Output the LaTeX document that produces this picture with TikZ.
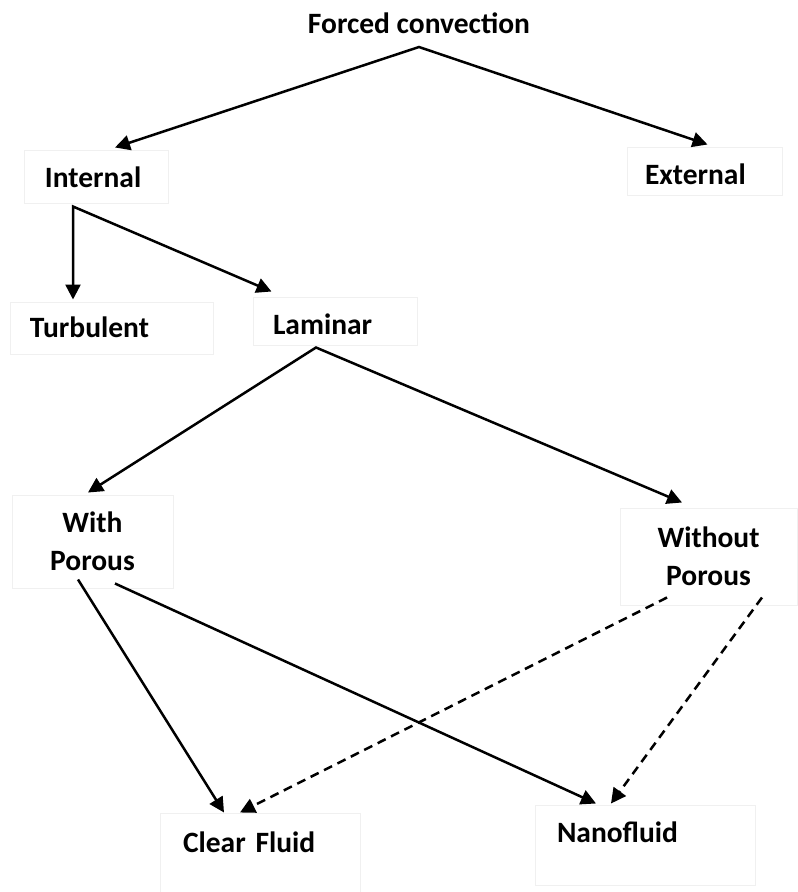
\documentclass[tikz,border=0pt]{standalone}
\usepackage{fontspec}
\setmainfont{Carlito}
\usetikzlibrary{arrows.meta}
\begin{document}
\begin{tikzpicture}
    [x=1pt, y=-1pt, >={Triangle[length=15pt,width=15pt]},
     item/.style={rectangle, draw=black!6, line width=1pt, inner ysep=0pt, align=left, font=\bfseries\fontsize{29.5}{38}\selectfont},
     twoline/.style={item, align=center, inner sep=0pt},
     link/.style={->, line width=2.5pt},
     fork/.style={<->, line width=2.5pt},
     maybe/.style={link, dash pattern=on 9pt off 6pt}]
    \useasboundingbox (0,0) rectangle (798,892);

    \node[item, draw=none, anchor=base] (fc) at (419,33) {Forced convection};
    \node[item, inner xsep=21pt, text width=102pt, text height=37pt, text depth=16pt] (int) at (96,176.5) {Internal};
    \node[item, inner xsep=18pt, text width=119pt, text height=37pt, text depth=11pt] (ext) at (704.5,171) {External};
    \node[item, inner xsep=20pt, text width=163pt, text height=35pt, text depth=17pt] (turb) at (111.5,328) {Turbulent};
    \node[item, inner xsep=20pt, text width=124pt, text height=37pt, text depth=11pt] (lam) at (335,321) {Laminar};
    \node[twoline, minimum width=161pt, minimum height=93pt] (wp) at (92.5,541.5) {With\\Porous};
    \node[twoline, minimum width=177pt, minimum height=97pt] (wop) at (708.5,556.5) {Without\\Porous};
    \node[item, inner xsep=23pt, text width=154pt, text height=39pt, text depth=40pt] (cf) at (260,852.5) {Clear Fluid};
    \node[item, inner xsep=22pt, text width=176pt, text height=37pt, text depth=43pt] (nano) at (645,845) {Nanofluid};

    \draw[fork] ([xshift=19pt,yshift=2pt]int.north) -- ([yshift=-14pt]fc.base) -- ([xshift=3pt,yshift=2pt]ext.north);
    \draw[fork] ([xshift=-38.5pt,yshift=2pt]turb.north) -- ([xshift=-23pt,yshift=-3pt]int.south) -- ([xshift=19pt,yshift=5pt]lam.north west);
    \draw[fork] ([xshift=-4.5pt,yshift=2pt]wp.north) -- ([xshift=-19pt,yshift=-2pt]lam.south) -- ([xshift=-26.5pt,yshift=5pt]wop.north);

    \draw[link] ([xshift=-14.5pt,yshift=9pt]wp.south) -- ([xshift=-36pt]cf.north);
    \draw[link] ([xshift=22.5pt,yshift=5pt]wp.south) -- ([xshift=-49pt,yshift=1pt]nano.north);
    \draw[maybe] ([xshift=-41.5pt,yshift=8pt]wop.south) -- ([xshift=-20pt]cf.north);
    \draw[maybe] ([xshift=53.5pt,yshift=8pt]wop.south) -- ([xshift=-34pt,yshift=1pt]nano.north);
\end{tikzpicture}
\end{document}
